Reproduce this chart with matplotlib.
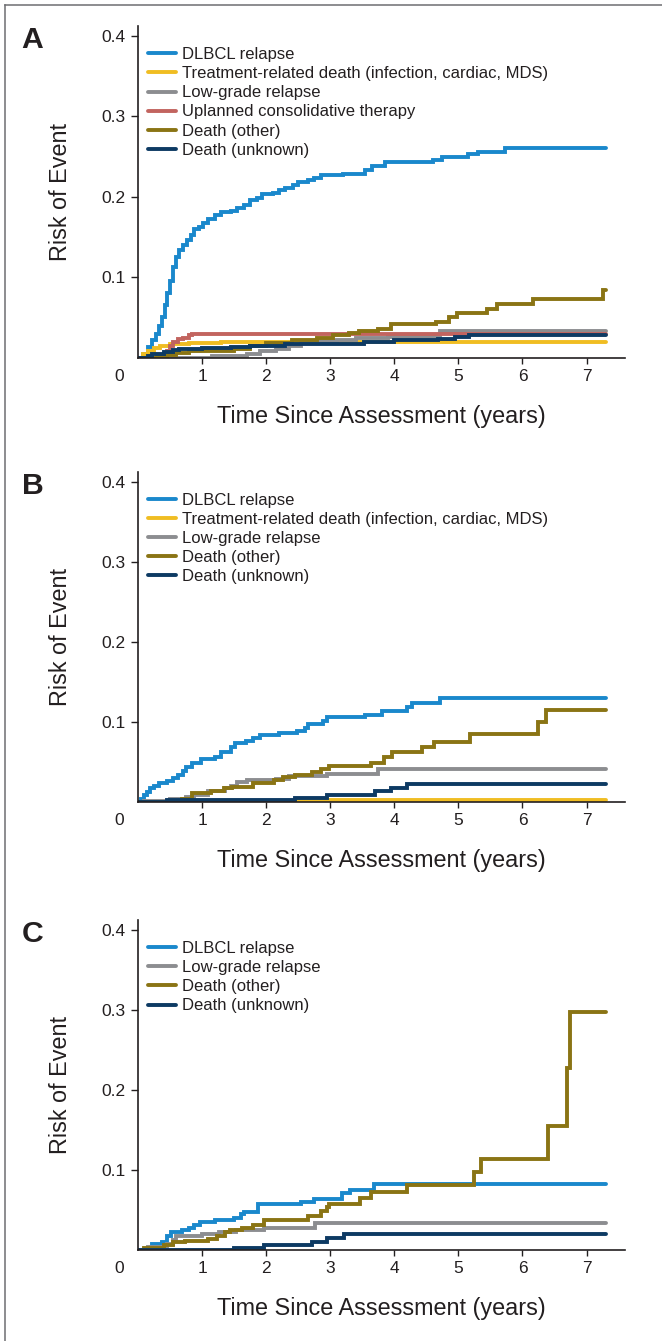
import matplotlib
matplotlib.use("Agg")
import matplotlib.pyplot as plt
from matplotlib.lines import Line2D
from matplotlib.transforms import ScaledTranslation

plt.rcParams['font.family'] = ['Liberation Sans', 'DejaVu Sans']

# cumulative incidence, (years, risk) pairs, step after each time
A_DLBCL = [(0, 0), (0.08, 0.004), (0.15, 0.013), (0.22, 0.022), (0.28, 0.03), (0.33, 0.04),
           (0.38, 0.05), (0.42, 0.065), (0.46, 0.08), (0.5, 0.095), (0.55, 0.113), (0.6, 0.125),
           (0.64, 0.134), (0.7, 0.14), (0.76, 0.146), (0.82, 0.152), (0.88, 0.16), (0.95, 0.163),
           (1.02, 0.168), (1.1, 0.172), (1.2, 0.178), (1.3, 0.181), (1.45, 0.183), (1.55, 0.186),
           (1.65, 0.19), (1.75, 0.196), (1.85, 0.199), (1.93, 0.203), (2.1, 0.205), (2.2, 0.208),
           (2.3, 0.211), (2.42, 0.215), (2.5, 0.219), (2.65, 0.221), (2.75, 0.224), (2.85, 0.227),
           (3.2, 0.229), (3.55, 0.234), (3.65, 0.238), (3.85, 0.243), (4.6, 0.246), (4.75, 0.249),
           (5.15, 0.253), (5.3, 0.256), (5.72, 0.261), (7.3, 0.261)]
A_TRT = [(0, 0), (0.08, 0.004), (0.15, 0.008), (0.25, 0.012), (0.35, 0.015), (0.5, 0.017),
         (0.8, 0.018), (1.3, 0.019), (2.0, 0.02), (7.3, 0.02)]
A_LOWGRADE = [(0, 0), (1.15, 0.002), (1.7, 0.005), (1.9, 0.008), (2.15, 0.011), (2.35, 0.015),
              (2.55, 0.018), (2.75, 0.021), (3.1, 0.022), (3.4, 0.024), (3.9, 0.026), (4.72, 0.033),
              (7.3, 0.033)]
A_UNPLANNED = [(0, 0), (0.3, 0.001), (0.45, 0.008), (0.5, 0.014), (0.55, 0.02), (0.62, 0.023),
               (0.7, 0.025), (0.8, 0.028), (0.85, 0.029), (3.1, 0.03), (7.3, 0.03)]
A_OTHER = [(0, 0), (0.3, 0.001), (0.45, 0.003), (0.6, 0.006), (0.8, 0.008), (1.5, 0.011),
           (1.75, 0.014), (2.0, 0.018), (2.4, 0.022), (2.8, 0.024), (3.05, 0.028), (3.3, 0.031),
           (3.45, 0.033), (3.75, 0.036), (3.95, 0.042), (4.65, 0.044), (4.85, 0.051), (4.98, 0.056),
           (5.45, 0.061), (5.6, 0.067), (6.17, 0.073), (7.26, 0.084), (7.3, 0.084)]
A_UNKNOWN = [(0, 0), (0.15, 0.002), (0.22, 0.004), (0.4, 0.007), (0.55, 0.009), (0.64, 0.011),
             (1.0, 0.0125), (1.45, 0.013), (1.75, 0.015), (2.3, 0.017), (3.53, 0.0195), (4.0, 0.0215),
             (4.68, 0.023), (4.95, 0.026), (5.17, 0.0285), (7.3, 0.0285)]

B_DLBCL = [(0, 0), (0.04, 0.004), (0.09, 0.008), (0.14, 0.012), (0.18, 0.017), (0.25, 0.02),
           (0.32, 0.023), (0.45, 0.026), (0.55, 0.03), (0.62, 0.034), (0.7, 0.039), (0.75, 0.043),
           (0.85, 0.048), (0.98, 0.054), (1.2, 0.056), (1.3, 0.062), (1.45, 0.068), (1.52, 0.073),
           (1.68, 0.076), (1.8, 0.08), (1.9, 0.084), (2.2, 0.086), (2.48, 0.088), (2.6, 0.092),
           (2.65, 0.097), (2.88, 0.101), (2.95, 0.106), (3.55, 0.109), (3.8, 0.113), (4.2, 0.118),
           (4.28, 0.123), (4.72, 0.13), (7.3, 0.13)]
B_TRT = [(0, 0), (0.5, 0.0015), (2.5, 0.0025), (7.3, 0.0025)]
B_LOWGRADE = [(0, 0), (0.1, 0.001), (0.5, 0.003), (0.75, 0.006), (0.88, 0.009), (1.1, 0.013),
              (1.35, 0.017), (1.45, 0.02), (1.55, 0.025), (1.7, 0.027), (2.15, 0.029), (2.35, 0.032),
              (2.95, 0.035), (3.75, 0.0413), (7.3, 0.0413)]
B_OTHER = [(0, 0), (0.5, 0.001), (0.68, 0.004), (0.84, 0.011), (1.14, 0.014), (1.34, 0.017),
           (1.47, 0.019), (1.8, 0.023), (2.13, 0.027), (2.26, 0.031), (2.45, 0.033), (2.72, 0.037),
           (2.85, 0.041), (2.98, 0.045), (3.64, 0.048), (3.84, 0.056), (3.97, 0.062), (4.43, 0.069),
           (4.62, 0.075), (5.18, 0.085), (6.24, 0.1), (6.37, 0.115), (7.3, 0.115)]
B_UNKNOWN = [(0, 0), (0.45, 0.002), (2.45, 0.005), (2.95, 0.009), (3.7, 0.013), (3.95, 0.0175),
             (4.2, 0.0217), (7.3, 0.0217)]

C_DLBCL = [(0, 0), (0.22, 0.008), (0.38, 0.01), (0.45, 0.017), (0.51, 0.023), (0.68, 0.025),
           (0.8, 0.028), (0.88, 0.031), (0.97, 0.035), (1.2, 0.037), (1.5, 0.04), (1.6, 0.045),
           (1.65, 0.048), (1.88, 0.057), (2.55, 0.06), (2.75, 0.064), (3.18, 0.071), (3.31, 0.075),
           (3.69, 0.0825), (7.3, 0.0825)]
C_LOWGRADE = [(0, 0), (0.15, 0.004), (0.45, 0.008), (0.55, 0.012), (0.6, 0.017), (1.0, 0.02),
              (1.27, 0.023), (1.53, 0.025), (1.96, 0.027), (2.72, 0.028), (2.77, 0.034), (7.3, 0.034)]
C_OTHER = [(0, 0), (0.09, 0.003), (0.41, 0.006), (0.55, 0.01), (0.74, 0.011), (1.1, 0.014),
           (1.24, 0.018), (1.35, 0.022), (1.43, 0.025), (1.63, 0.027), (1.8, 0.031), (1.96, 0.037),
           (2.65, 0.042), (2.85, 0.049), (2.95, 0.054), (2.98, 0.057), (3.47, 0.065), (3.64, 0.072),
           (4.2, 0.081), (5.25, 0.098), (5.35, 0.114), (6.4, 0.155), (6.7, 0.227), (6.74, 0.298),
           (7.3, 0.298)]
C_UNKNOWN = [(0, 0), (1.5, 0.002), (1.96, 0.006), (2.72, 0.01), (2.95, 0.015), (3.21, 0.02),
             (7.3, 0.02)]

LABELS = {
    'dlbcl': 'DLBCL relapse',
    'trt': 'Treatment-related death (infection, cardiac, MDS)',
    'low': 'Low-grade relapse',
    'unpl': 'Uplanned consolidative therapy',
    'other': 'Death (other)',
    'unk': 'Death (unknown)',
}
COLORS = {
    'dlbcl': '#1a88cc',
    'trt': '#f0bd22',
    'low': '#8c8d90',
    'unpl': '#c2645f',
    'other': '#8a7414',
    'unk': '#0d3a63',
}

PANELS = [
    ('A', [('dlbcl', A_DLBCL), ('trt', A_TRT), ('low', A_LOWGRADE), ('unpl', A_UNPLANNED),
           ('other', A_OTHER), ('unk', A_UNKNOWN)]),
    ('B', [('dlbcl', B_DLBCL), ('trt', B_TRT), ('low', B_LOWGRADE), ('other', B_OTHER),
           ('unk', B_UNKNOWN)]),
    ('C', [('dlbcl', C_DLBCL), ('low', C_LOWGRADE), ('other', C_OTHER), ('unk', C_UNKNOWN)]),
]

X_TICKS = [0, 1, 2, 3, 4, 5, 6, 7]
Y_TICKS = [0.1, 0.2, 0.3, 0.4]

W, H = 662, 1341
INK = '#231f20'
fig = plt.figure(figsize=(W / 100, H / 100), dpi=100)

# axes boxes in pixels: (left, top, right, bottom)
boxes = [(138, 26, 625, 357.7), (138, 471.7, 625, 801.7), (138, 920, 625, 1250)]

for (letter, series), (l, t, r, b) in zip(PANELS, boxes):
    ax = fig.add_axes([l / W, 1 - b / H, (r - l) / W, (b - t) / H])
    for key, pts in series:
        xs = [p[0] for p in pts]
        ys = [p[1] for p in pts]
        ax.step(xs, ys, where='post', color=COLORS[key], lw=2.8, label=LABELS[key],
                solid_joinstyle='miter', solid_capstyle='round')

    ax.set_xlim(0, 7.6)
    ax.set_ylim(0, 0.4125)
    for s in ['top', 'right']:
        ax.spines[s].set_visible(False)
    for s in ['left', 'bottom']:
        ax.spines[s].set_linewidth(1.2)
        ax.spines[s].set_color(INK)

    ax.set_xticks(X_TICKS)
    ax.set_xticklabels([str(v) for v in X_TICKS])
    ax.set_yticks(Y_TICKS)
    ax.set_yticklabels([f'{v:.1f}' for v in Y_TICKS])
    ax.tick_params(axis='x', length=4.3, width=1, pad=3.5, labelsize=12.5, colors=INK)
    ax.tick_params(axis='y', length=5, width=1, pad=4, labelsize=12.5, colors=INK)
    # the origin "0" sits left of the corner with no tick mark
    t0 = ax.xaxis.get_major_ticks()[0]
    t0.tick1line.set_visible(False)
    t0.label1.set_transform(t0.label1.get_transform() +
                            ScaledTranslation(-19 / 100, 0, fig.dpi_scale_trans))

    ax.set_xlabel('Time Since Assessment (years)', fontsize=16.8, color=INK)
    ax.xaxis.set_label_coords(0.5, -0.143)
    ax.set_ylabel('Risk of Event', fontsize=16.8, color=INK)
    ax.yaxis.set_label_coords(-0.1355, 0.5)

    leg = ax.legend(loc='upper left', bbox_to_anchor=(0.0205, 0.936), frameon=False,
                    fontsize=12, handlelength=1.7, handletextpad=0.35, labelspacing=0.245,
                    borderpad=0, borderaxespad=0)
    for txt in leg.get_texts():
        txt.set_color(INK)

    fig.text(21.7 / W, 1 - t / H, letter, ha='left', va='top', fontsize=21.7,
             fontweight='bold', color=INK)

# page frame, only top and left edges are in the crop
fig.add_artist(Line2D([5 / W, 1], [1 - 5 / H, 1 - 5 / H], transform=fig.transFigure,
                      color='#6d6e71', lw=1.1))
fig.add_artist(Line2D([5 / W, 5 / W], [0, 1 - 5 / H], transform=fig.transFigure,
                      color='#6d6e71', lw=1.1))

fig.savefig('out.png', dpi=100)
